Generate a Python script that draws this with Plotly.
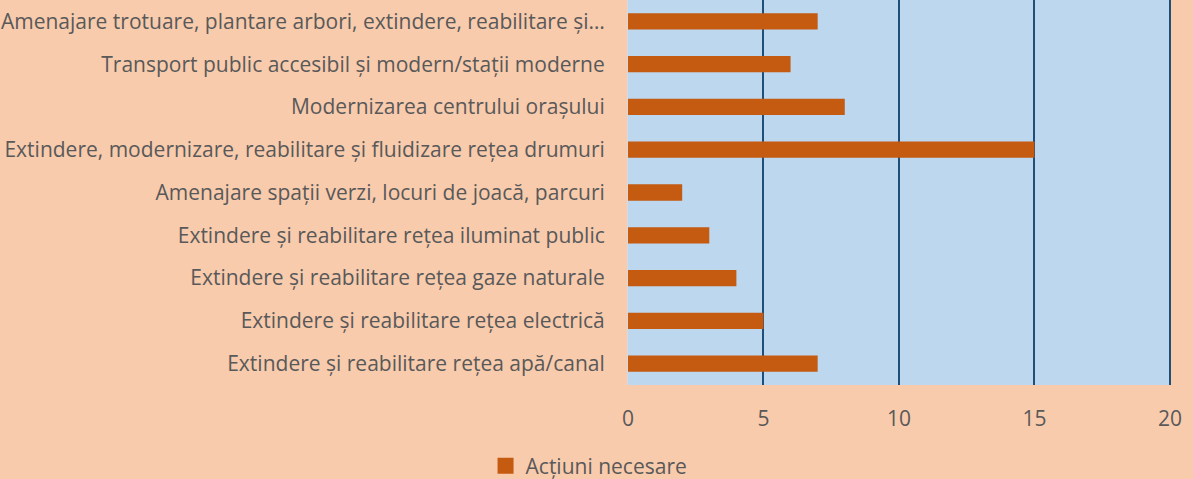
import plotly.graph_objects as go

categories = [
    "Extindere și reabilitare rețea apă/canal",
    "Extindere și reabilitare rețea electrică",
    "Extindere și reabilitare rețea gaze naturale",
    "Extindere și reabilitare rețea iluminat public",
    "Amenajare spații verzi, locuri de joacă, parcuri",
    "Extindere, modernizare, reabilitare și fluidizare rețea drumuri",
    "Modernizarea centrului orașului",
    "Transport public accesibil și modern/stații moderne",
    "Amenajare trotuare, plantare arbori, extindere, reabilitare și…",
]
values = [7, 5, 4, 3, 2, 15, 8, 6, 7]
series_name = "Acțiuni necesare"
x_ticks = [0, 5, 10, 15, 20]

font_family = "Open Sans, Liberation Sans, sans-serif"
text_color = "#595959"
bar_color = "#C55A11"
fsize = 21

fig = go.Figure()
fig.add_trace(
    go.Bar(
        x=values,
        y=categories,
        orientation="h",
        name=series_name,
        marker=dict(color=bar_color, line=dict(width=0)),
        width=0.38,
        showlegend=False,
    )
)
# legend entry with a larger square swatch, like the original
fig.add_trace(
    go.Scatter(
        x=[None],
        y=[None],
        mode="markers",
        name=series_name,
        marker=dict(symbol="square", size=16, color=bar_color),
        showlegend=True,
    )
)

fig.update_layout(
    width=1193,
    height=479,
    paper_bgcolor="#F8CBAD",
    plot_bgcolor="#BDD7EE",
    margin=dict(l=628, r=22, t=0, b=94),
    font=dict(family=font_family, size=fsize, color=text_color),
    legend=dict(
        orientation="h",
        xref="container",
        yref="container",
        x=0.407,
        xanchor="left",
        y=0.027,
        yanchor="middle",
        bgcolor="rgba(0,0,0,0)",
        font=dict(size=fsize, color=text_color),
        itemwidth=30,
    ),
)

fig.update_xaxes(
    range=[0, 20.04],
    tickvals=x_ticks,
    showgrid=True,
    gridcolor="#1F4E79",
    gridwidth=2,
    zeroline=False,
    showline=False,
    ticks="",
    ticklabelstandoff=19,
    tickfont=dict(size=fsize, color=text_color),
    fixedrange=True,
)
fig.update_yaxes(
    categoryorder="array",
    categoryarray=categories,
    showgrid=False,
    showline=True,
    linecolor="#D9D9D9",
    linewidth=1,
    ticks="",
    ticklabelstandoff=18,
    tickfont=dict(size=fsize, color=text_color),
    fixedrange=True,
)

fig.write_html(
    "out.html",
    config={"displayModeBar": False},
    post_script="document.body.style.margin='0';document.body.style.overflow='hidden';",
)
